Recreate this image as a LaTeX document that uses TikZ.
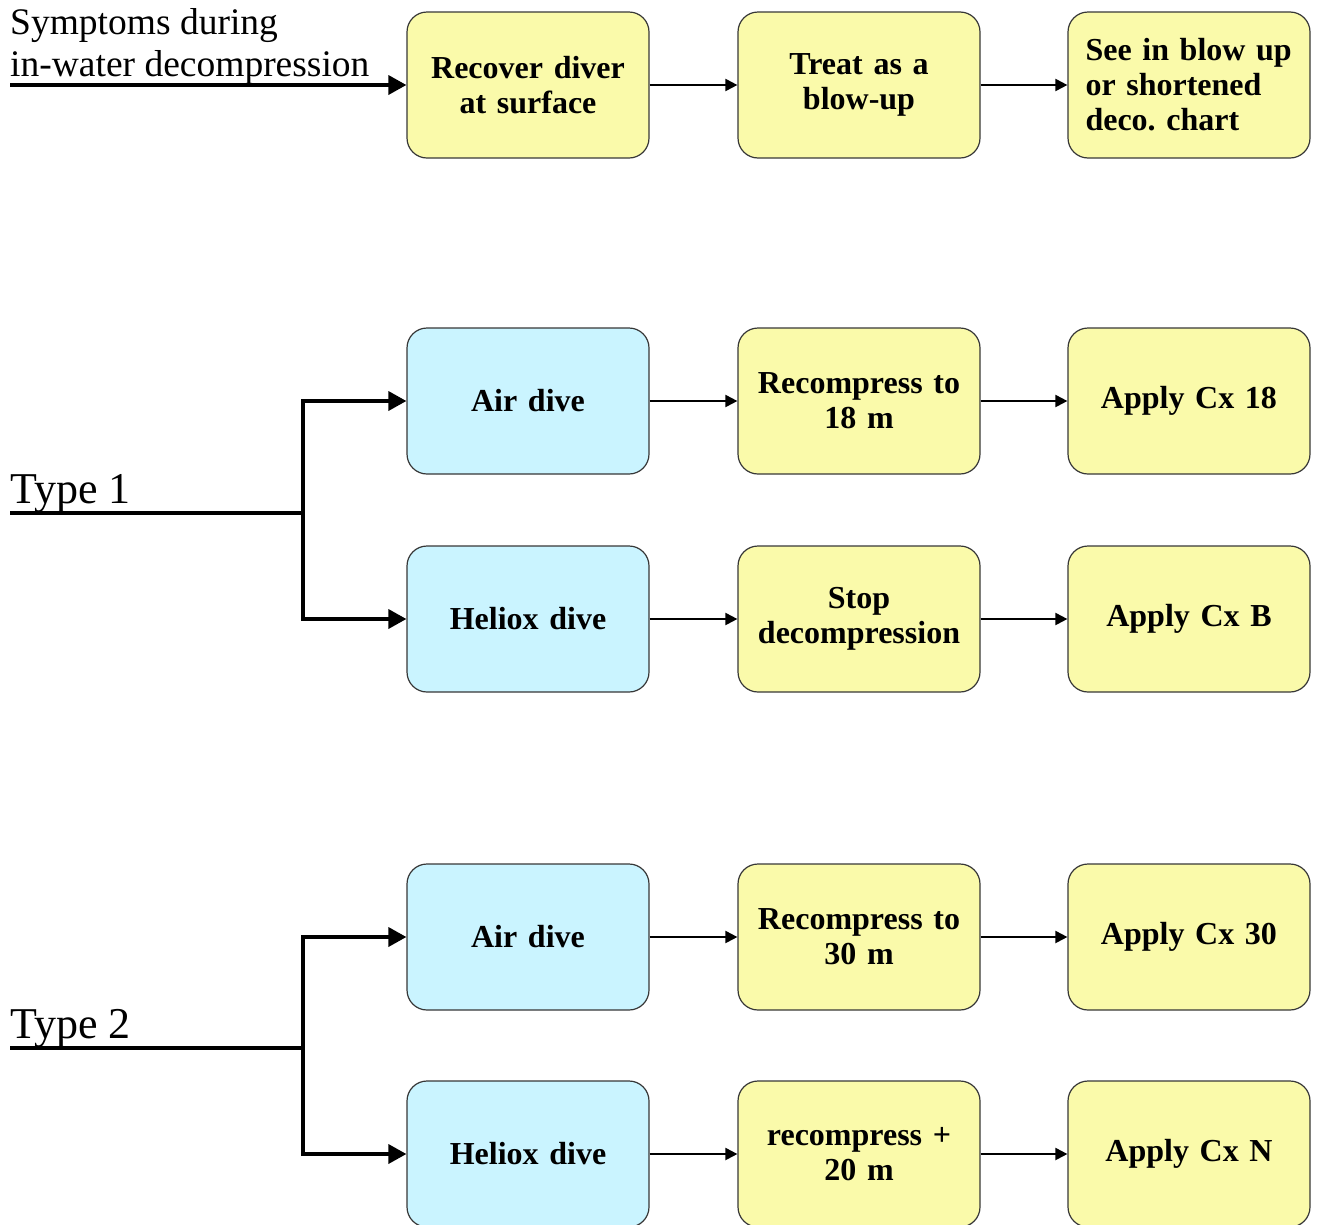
\documentclass[tikz,border=0pt]{standalone}
\usepackage{fontspec}
\setmainfont{Liberation Serif}
\usetikzlibrary{arrows.meta,positioning}
\frenchspacing
\definecolor{yellowA}{RGB}{250,250,170}
\definecolor{blueA}{RGB}{202,244,255}
\definecolor{edge}{RGB}{55,55,55}
\tikzset{
  box/.style={
    rounded corners=20pt,
    draw=edge,
    line width=1.2pt,
    fill=#1,
    minimum width=242pt,
    minimum height=146pt,
    text width=224pt,
    align=center,
    inner sep=0pt,
    font=\fontsize{32}{35}\selectfont\bfseries
  },
  box/.default=yellowA,
  link/.style={-{Triangle[length=12pt,width=12pt]}, line width=2pt, draw=black},
  feed/.style={line width=3.5pt, draw=black},
  feedarrow/.style={feed, -{Triangle[length=18pt,width=19pt]}},
  label/.style={anchor=base west, inner sep=0pt, align=left}
}
\begin{document}
\begin{tikzpicture}[x=1pt,y=-1pt]
\useasboundingbox (0,0) rectangle (1317,1224);

\node[box] (recover) at (528,85) {Recover diver\\at surface};
\node[box] (treat) at (859,85) {Treat as a\\blow-up};
\node[box, align=left, text width=207pt] (chart) at (1189,85) {See in blow up\\or shortened\\deco. chart};

\node[box=blueA] (airA) at (528,401) {Air dive};
\node[box] (recA) at (859,401) {Recompress to\\18 m};
\node[box] (cxA) at (1189,401) {Apply Cx 18};

\node[box=blueA] (helA) at (528,619) {Heliox dive};
\node[box] (stopA) at (859,619) {Stop\\decompression};
\node[box] (cxB) at (1189,619) {Apply Cx B};

\node[box=blueA] (airB) at (528,937) {Air dive};
\node[box] (recB) at (859,937) {Recompress to\\30 m};
\node[box] (cx30) at (1189,937) {Apply Cx 30};

\node[box=blueA] (helB) at (528,1154) {Heliox dive};
\node[box] (recH) at (859,1154) {recompress +\\20 m};
\node[box] (cxN) at (1189,1154) {Apply Cx N};

\node[label, font=\fontsize{37.5}{42}\selectfont] (symptoms) at (10,76) {Symptoms during\\in-water decompression};
\node[label, font=\fontsize{44}{48}\selectfont] (type1) at (10,503) {Type 1};
\node[label, font=\fontsize{44}{48}\selectfont] (type2) at (10,1038) {Type 2};

\coordinate (start) at (10,85);
\coordinate (t1) at (10,513);
\coordinate (j1) at (303,513);
\coordinate (t2) at (10,1048);
\coordinate (j2) at (303,1048);

\draw[feedarrow] (start) -- (recover.west);
\draw[link] (recover) -- (treat);
\draw[link] (treat) -- (chart);

\draw[feed] (t1) -- (j1);
\draw[feedarrow] (j1) |- (airA.west);
\draw[feedarrow] (j1) |- (helA.west);
\draw[link] (airA) -- (recA);
\draw[link] (recA) -- (cxA);
\draw[link] (helA) -- (stopA);
\draw[link] (stopA) -- (cxB);

\draw[feed] (t2) -- (j2);
\draw[feedarrow] (j2) |- (airB.west);
\draw[feedarrow] (j2) |- (helB.west);
\draw[link] (airB) -- (recB);
\draw[link] (recB) -- (cx30);
\draw[link] (helB) -- (recH);
\draw[link] (recH) -- (cxN);

\end{tikzpicture}
\end{document}
